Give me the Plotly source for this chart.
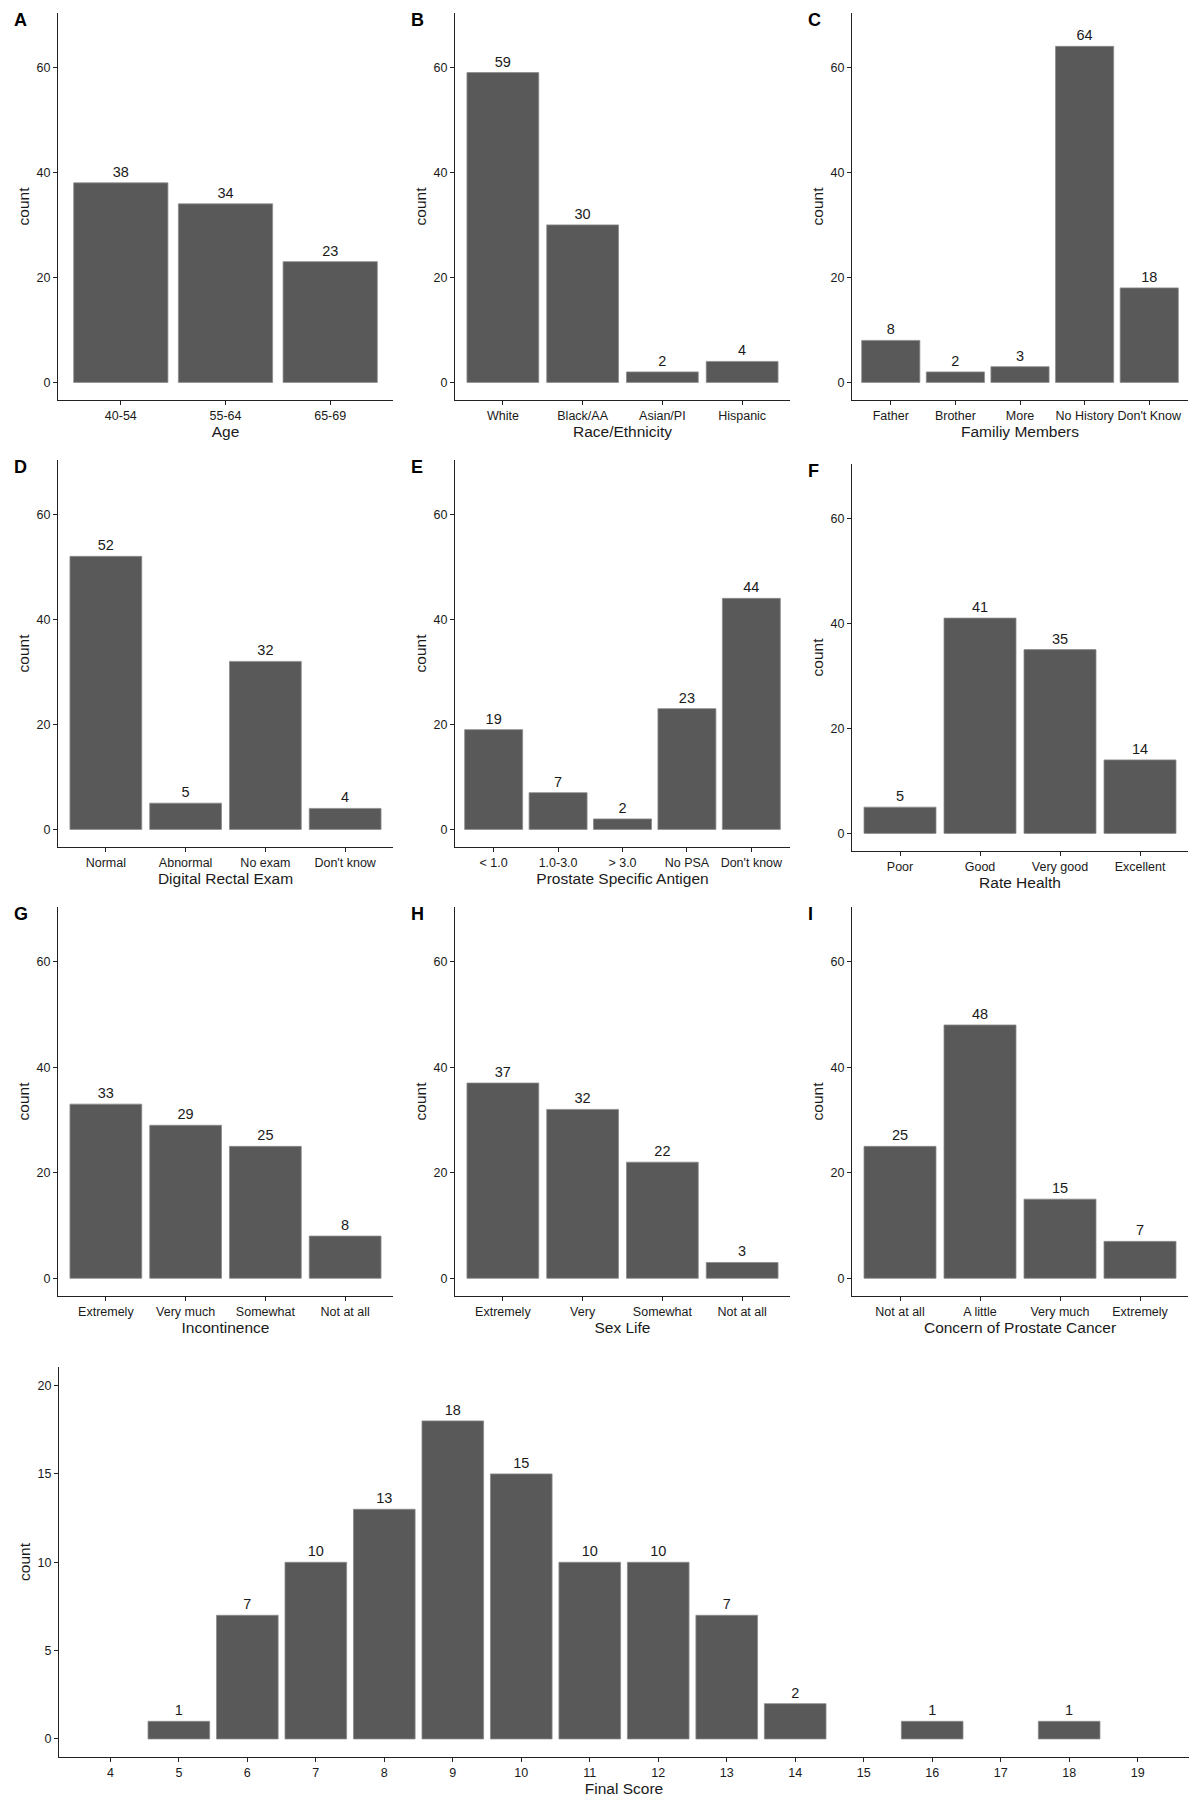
import plotly.graph_objects as go

# panel data (categories and counts)
age_cats = ['40-54', '55-64', '65-69']
age_counts = [38, 34, 23]

race_cats = ['White', 'Black/AA', 'Asian/PI', 'Hispanic']
race_counts = [59, 30, 2, 4]

family_cats = ['Father', 'Brother', 'More', 'No History', "Don't Know"]
family_counts = [8, 2, 3, 64, 18]

dre_cats = ['Normal', 'Abnormal', 'No exam', "Don't know"]
dre_counts = [52, 5, 32, 4]

psa_cats = ['< 1.0', '1.0-3.0', '> 3.0', 'No PSA', "Don't know"]
psa_counts = [19, 7, 2, 23, 44]

health_cats = ['Poor', 'Good', 'Very good', 'Excellent']
health_counts = [5, 41, 35, 14]

incont_cats = ['Extremely', 'Very much', 'Somewhat', 'Not at all']
incont_counts = [33, 29, 25, 8]

sex_cats = ['Extremely', 'Very', 'Somewhat', 'Not at all']
sex_counts = [37, 32, 22, 3]

concern_cats = ['Not at all', 'A little', 'Very much', 'Extremely']
concern_counts = [25, 48, 15, 7]

score_vals = [5, 6, 7, 8, 9, 10, 11, 12, 13, 14, 16, 18]
score_counts = [1, 7, 10, 13, 18, 15, 10, 10, 7, 2, 1, 1]

W, H = 1197, 1801
FONT = 'Liberation Sans, Arial, sans-serif'
BAR = '#595959'
INK = '#1a1a1a'

# (letter, x title, cats, counts, px box left, right, top, bottom)
panels = [
    ('A', 'Age', age_cats, age_counts, 58, 393, 13, 400),
    ('B', 'Race/Ethnicity', race_cats, race_counts, 455, 790, 13, 400),
    ('C', 'Familiy Members', family_cats, family_counts, 852, 1188, 13, 400),
    ('D', 'Digital Rectal Exam', dre_cats, dre_counts, 58, 393, 460, 847),
    ('E', 'Prostate Specific Antigen', psa_cats, psa_counts, 455, 790, 460, 847),
    ('F', 'Rate Health', health_cats, health_counts, 852, 1188, 464, 851),
    ('G', 'Incontinence', incont_cats, incont_counts, 58, 393, 907, 1296),
    ('H', 'Sex Life', sex_cats, sex_counts, 455, 790, 907, 1296),
    ('I', 'Concern of Prostate Cancer', concern_cats, concern_counts, 852, 1188, 907, 1296),
]

fig = go.Figure()
layout = {}


def axis_style():
    return dict(showline=True, linecolor='#222', linewidth=1.2, ticks='outside',
                ticklen=4, tickwidth=1.1, tickcolor='#222', showgrid=False,
                zeroline=False, tickfont=dict(family=FONT, size=12.5, color=INK),
                title_font=dict(family=FONT, size=15.5, color=INK))


def add_panel(i, xtitle, xs, ys, x0, x1, y0, y1, xaxis_extra, yaxis_extra):
    sfx = '' if i == 1 else str(i)
    fig.add_trace(go.Bar(x=xs, y=ys, width=0.9, marker=dict(color=BAR, line=dict(color='#8c8c8c', width=0.8)),
                         texttemplate='%{y}', textposition='outside', cliponaxis=False,
                         constraintext='none',
                         textfont=dict(family=FONT, size=14.5, color=INK),
                         xaxis='x' + sfx, yaxis='y' + sfx, showlegend=False, hoverinfo='skip'))
    xa = axis_style()
    xa.update(domain=[x0 / W, x1 / W], anchor='y' + sfx, tickangle=0,
              title=dict(text=xtitle, standoff=4))
    xa.update(xaxis_extra)
    ya = axis_style()
    ya.update(domain=[1 - y1 / H, 1 - y0 / H], anchor='x' + sfx,
              title=dict(text='count', standoff=3))
    ya.update(yaxis_extra)
    layout['xaxis' + sfx] = xa
    layout['yaxis' + sfx] = ya


annotations = []
for i, (letter, xtitle, cats, counts, x0, x1, y0, y1) in enumerate(panels, start=1):
    add_panel(i, xtitle, cats, counts, x0, x1, y0, y1,
              dict(type='category', range=[-0.6, len(cats) - 0.4]),
              dict(range=[-3.35, 70.35], tickvals=[0, 20, 40, 60]))
    annotations.append(dict(text='<b>' + letter + '</b>', x=(x0 - 46) / W, y=1 - (y0 + 7) / H,
                            xref='paper', yref='paper', xanchor='left', yanchor='middle',
                            showarrow=False, font=dict(family=FONT, size=18, color='black')))

add_panel(10, 'Final Score', score_vals, score_counts, 59, 1189, 1367, 1757,
          dict(range=[3.25, 19.75], tickmode='linear', tick0=4, dtick=1),
          dict(range=[-1.02, 21.05], tickvals=[0, 5, 10, 15, 20]))

fig.update_layout(**layout)
fig.update_layout(width=W, height=H, margin=dict(l=0, r=0, t=0, b=0),
                  plot_bgcolor='white', paper_bgcolor='white',
                  annotations=annotations, font=dict(family=FONT, color=INK))

# drop the default page margin and scrollbars so the figure fills the window exactly
fig.write_html('out.html', config={'displayModeBar': False},
               post_script="document.body.style.margin='0px';"
                           "document.body.style.overflow='hidden';"
                           "document.documentElement.style.overflow='hidden';")
